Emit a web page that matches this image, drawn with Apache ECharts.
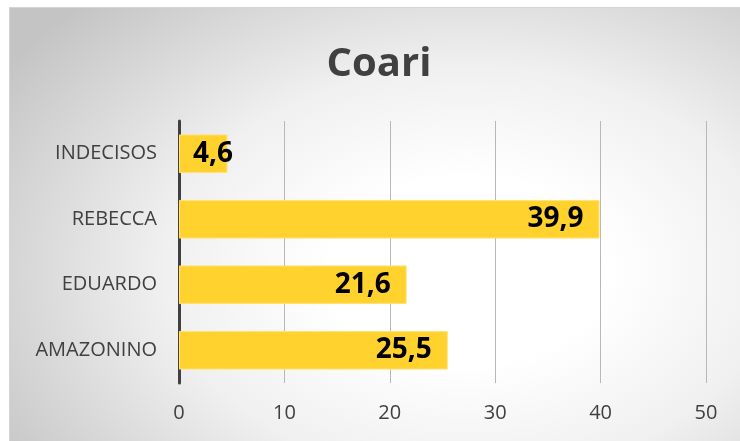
<!DOCTYPE html>
<html>
<head>
<meta charset="utf-8">
<script src="https://cdn.jsdelivr.net/npm/echarts@6/dist/echarts.min.js"></script>
<style>
  html, body { margin: 0; padding: 0; background: #fff; }
  #chart {
    position: absolute; left: 9px; top: 7px; width: 740px; height: 440px;
    border: 1px solid #d4d4d4; box-sizing: border-box;
    background: radial-gradient(ellipse 75% 85% at 62% 60%, #ffffff 25%, #f0f0f0 55%, #c4c4c4 100%);
  }
</style>
</head>
<body>
<div id="chart"></div>
<script>
// categorias (de baixo para cima)
const categories = ['AMAZONINO', 'EDUARDO', 'REBECCA', 'INDECISOS']
const values = [25.5, 21.6, 39.9, 4.6]
const xTicks = [0, 10, 20, 30, 40, 50]

const chart = echarts.init(document.getElementById('chart'))

const fmt = v => String(v).replace('.', ',')

// barra curta: o rótulo não cabe dentro, fica encostado no eixo
const barData = values.map(v => v < 8
  ? { value: v, label: { position: 'insideLeft', distance: 14 } }
  : v)

chart.setOption({
  backgroundColor: 'transparent',
  title: {
    text: 'Coari',
    left: 'center',
    top: 32,
    textStyle: { fontFamily: 'Open Sans', fontSize: 40, fontWeight: 'bold', color: '#404040' }
  },
  grid: { left: 169, right: 42, top: 113, bottom: 63, containLabel: false },
  xAxis: {
    type: 'value',
    min: xTicks[0],
    max: xTicks[xTicks.length - 1],
    interval: 10,
    axisLine: { show: false },
    axisTick: { show: false },
    axisLabel: { color: '#404040', fontSize: 20, fontFamily: 'Open Sans', margin: 20 },
    splitLine: { show: true, lineStyle: { color: '#b8b8b8', width: 1 } }
  },
  yAxis: {
    type: 'category',
    data: categories,
    axisLine: { show: true, lineStyle: { color: '#404040', width: 3 } },
    axisTick: { show: false },
    axisLabel: { color: '#404040', fontSize: 20, fontFamily: 'Open Sans', margin: 22 }
  },
  series: [{
    type: 'bar',
    data: barData,
    barCategoryGap: '41%',
    itemStyle: { color: '#ffd22e', borderColor: '#ffe27a', borderWidth: 1 },
    label: {
      show: true,
      position: 'insideRight',
      distance: 16,
      formatter: p => fmt(p.value),
      color: '#000',
      fontSize: 28,
      fontWeight: 'bold',
      fontFamily: 'Open Sans'
    }
  }]
})
</script>
</body>
</html>
